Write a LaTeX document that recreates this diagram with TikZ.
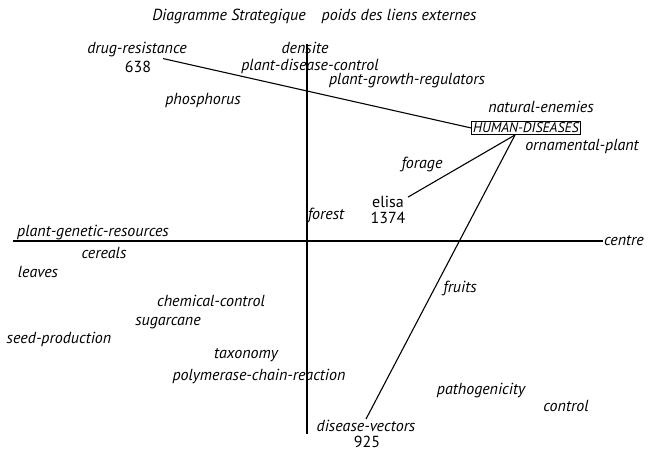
\documentclass[tikz,border=0pt]{standalone}
\usepackage{fontspec}
\setmainfont{PT Sans}
\usetikzlibrary{positioning}
\tikzset{
	lbl/.style={font=\itshape\fontsize{16}{18}\selectfont, inner sep=1pt},
	val/.style={font=\fontsize{16}{18}\selectfont, inner sep=1pt, align=center},
	axis/.style={line width=1.1pt},
	link/.style={line width=1.1pt}
}
\begin{document}
\begin{tikzpicture}[x=1pt, y=-1pt]
		\useasboundingbox (0,0) rectangle (648,453);
		% titre
		\node[lbl] (title) at (229,16) {Diagramme Strategique};
		\node[lbl] (poids) at (399,16) {poids des liens externes};
		% axes
		\coordinate (top) at (307,44);
		\coordinate (bottom) at (307,434);
		\coordinate (left) at (13,241);
		\node[lbl, anchor=west] (centre) at (603,241) {centre};
		\draw[axis] (top) -- (bottom);
		\draw[axis] (left) -- (centre.west);
		% themes
		\node[lbl] (drug) at (137,50) {drug-resistance};
		\node[val] (drugval) at (138,67) {638};
		\node[lbl] (densite) at (305,48) {densite};
		\node[lbl] (pdc) at (310,66) {plant-disease-control};
		\node[lbl] (pgr) at (407,81) {plant-growth-regulators};
		\node[lbl] (phos) at (203,100) {phosphorus};
		\node[lbl] (nat) at (541,107) {natural-enemies};
		\node[draw, line width=0.8pt, inner sep=1.5pt, font=\itshape\fontsize{14}{16}\selectfont] (hd) at (526,128) {HUMAN-DISEASES};
		\node[lbl] (orn) at (582,146) {ornamental-plant};
		\node[lbl] (forage) at (422,164) {forage};
		\node[val] (elisa) at (388,202) {elisa};
		\node[val] (elisaval) at (388,218) {1374};
		\node[lbl] (forest) at (326,215) {forest};
		\node[lbl] (pgres) at (93,233) {plant-genetic-resources};
		\node[lbl] (cereals) at (104,253) {cereals};
		\node[lbl] (leaves) at (38,272) {leaves};
		\node[lbl] (fruits) at (460,288) {fruits};
		\node[lbl] (chem) at (211,301) {chemical-control};
		\node[lbl] (sugar) at (168,323) {sugarcane};
		\node[lbl] (seed) at (59,339) {seed-production};
		\node[lbl] (taxo) at (246,355) {taxonomy};
		\node[lbl] (pcr) at (259,376) {polymerase-chain-reaction};
		\node[lbl] (patho) at (481,391) {pathogenicity};
		\node[lbl] (control) at (566,406) {control};
		\node[lbl] (dv) at (366,426) {disease-vectors};
		\node[val] (dvval) at (367,442) {925};
		% liens
		\draw[link] ([xshift=26pt]drug.south) -- (hd.west);
		\draw[link] ([shift={(3pt,-2pt)}]elisa.north east) -- ([xshift=-11pt]hd.south);
		\draw[link] (dv.north) -- ([xshift=-11pt]hd.south);
	\end{tikzpicture}
\end{document}
